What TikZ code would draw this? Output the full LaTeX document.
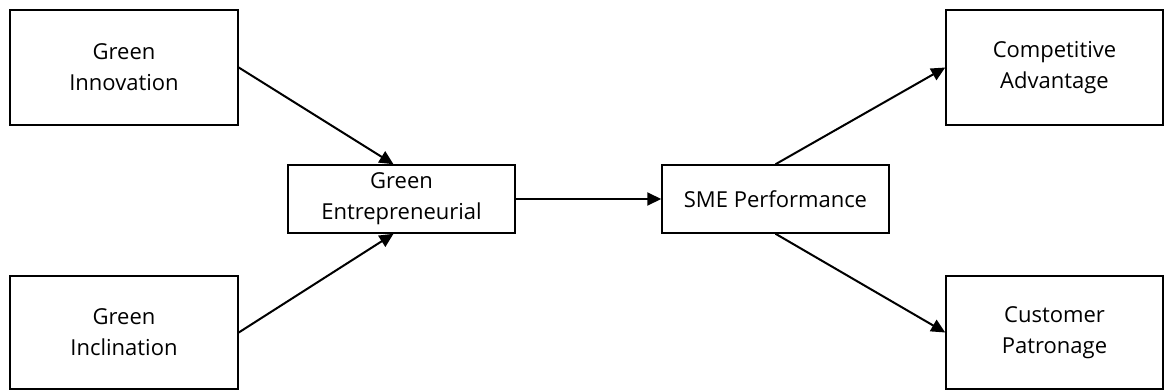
\documentclass[tikz,border=0pt]{standalone}
\usepackage{fontspec}
\setmainfont{Open Sans}
\usetikzlibrary{arrows.meta}
\tikzset{
  box/.style={draw=black, line width=1.5pt, fill=white, align=center, inner sep=0pt,
              font=\fontsize{22}{31}\selectfont},
  link/.style={line width=2pt, -{Triangle[length=14pt,width=13pt]}}
}
\begin{document}
\begin{tikzpicture}[x=1pt,y=-1pt]
  \useasboundingbox (0,0) rectangle (1166,391);
  \node[box, minimum width=228pt, minimum height=115pt] (gi) at (124,67.5) {Green\\Innovation};
  \node[box, minimum width=228pt, minimum height=113pt] (gc) at (124,332.5) {Green\\Inclination};
  \node[box, minimum width=227pt, minimum height=68pt] (ge) at (401.5,199) {Green\\Entrepreneurial};
  \node[box, minimum width=227pt, minimum height=68pt] (sme) at (775.5,199) {SME Performance};
  \node[box, minimum width=217pt, minimum height=115pt] (ca) at (1054.5,67.5) {Competitive\\Advantage};
  \node[box, minimum width=217pt, minimum height=113pt] (cp) at (1054.5,332.5) {Customer\\Patronage};
  \coordinate (gen) at ([xshift=-8pt]ge.north);
  \coordinate (ges) at ([xshift=-8pt]ge.south);
  \draw[link] (gi.east) -- (gen);
  \draw[link] (gc.east) -- (ges);
  \draw[link] (ge.east) -- (sme.west);
  \draw[link] (sme.north) -- (ca.west);
  \draw[link] (sme.south) -- (cp.west);
\end{tikzpicture}
\end{document}
